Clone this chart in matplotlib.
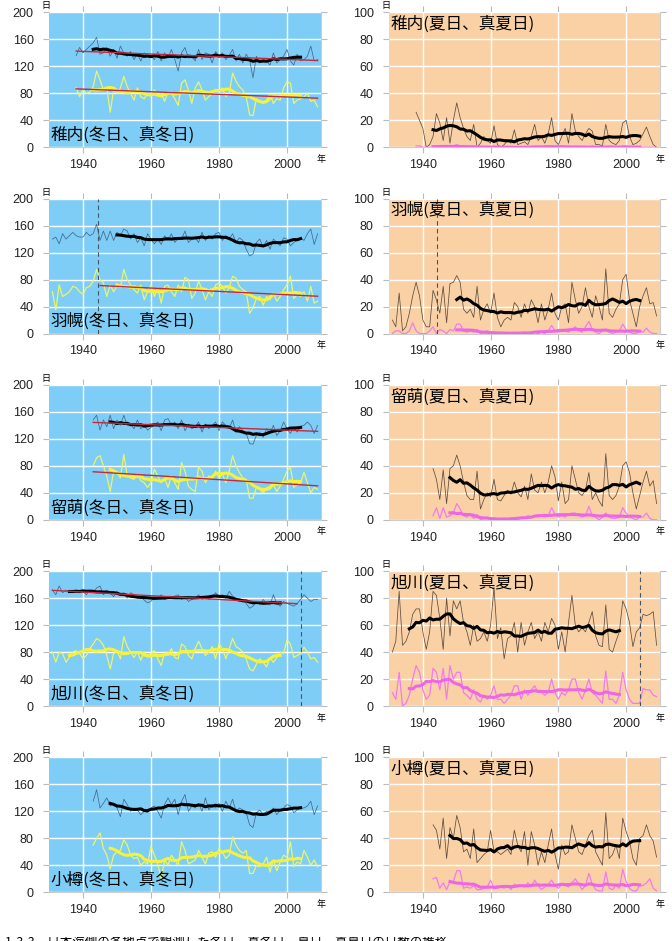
import numpy as np
import pandas as pd
import matplotlib
matplotlib.use('Agg')
import matplotlib.pyplot as plt

plt.rcParams['font.family'] = ['Liberation Sans', 'Noto Sans CJK JP']

# ---- data: annual day counts ----
# 稚内 1938-2009
wakkanai_start = 1938
wakkanai_fuyubi = [136, 148, 140, 145, 150, 155, 163, 138, 140, 148,
                   135, 145, 132, 150, 140, 135, 142, 130, 138, 128,
                   140, 134, 136, 130, 142, 128, 140, 132, 145, 130,
                   113, 140, 148, 132, 135, 128, 145, 130, 140, 138,
                   125, 142, 135, 140, 130, 136, 145, 128, 138, 125,
                   138, 130, 103, 135, 125, 130, 128, 122, 140, 125,
                   130, 135, 145, 128, 122, 138, 128, 130, 135, 150,
                   128, 130]
wakkanai_mafuyubi = [88, 75, 85, 80, 82, 90, 113, 100, 85, 88,
                     52, 85, 80, 88, 105, 90, 80, 70, 88, 75,
                     72, 80, 78, 85, 78, 80, 68, 82, 80, 72,
                     62, 95, 100, 85, 65, 88, 97, 85, 70, 75,
                     80, 85, 82, 88, 75, 80, 110, 98, 90, 85,
                     75, 48, 47, 72, 68, 65, 70, 80, 65, 72,
                     70, 88, 97, 95, 65, 70, 72, 75, 80, 68,
                     70, 60]
wakkanai_natsubi = [26, 20, 14, 0, 2, 8, 25, 18, 5, 22,
                    3, 20, 33, 22, 14, 8, 5, 17, 0, 3,
                    8, 5, 3, 16, 2, 0, 2, 5, 3, 13,
                    2, 3, 4, 2, 8, 17, 5, 8, 3, 10,
                    22, 5, 2, 8, 14, 3, 25, 12, 8, 5,
                    10, 14, 12, 2, 2, 1, 17, 5, 3, 2,
                    5, 18, 20, 8, 2, 3, 5, 10, 15, 8,
                    2, 0]
wakkanai_manatsubi = [1, 1, 0, 0, 0, 0, 1, 1, 0, 1,
                      0, 1, 2, 1, 0, 0, 0, 1, 0, 0,
                      0, 0, 0, 1, 0, 0, 0, 0, 0, 0,
                      0, 0, 0, 0, 0, 0, 0, 0, 1, 1,
                      1, 0, 0, 1, 0, 1, 0, 0, 0, 0,
                      0, 0, 1, 0, 0, 0, 0, 0, 0, 0,
                      0, 1, 1, 0, 0, 0, 0, 0, 0, 0,
                      0, 0]

# 羽幌 1931-2009
haboro_start = 1931
haboro_fuyubi = [140, 143, 133, 148, 140, 145, 150, 145, 143, 143,
                 150, 145, 148, 162, 138, 152, 138, 152, 138, 150,
                 145, 155, 152, 140, 148, 135, 142, 130, 148, 140,
                 133, 140, 132, 145, 138, 148, 135, 142, 140, 152,
                 135, 140, 142, 135, 150, 138, 145, 140, 148, 150,
                 138, 145, 140, 148, 135, 142, 138, 125, 115, 118,
                 135, 140, 128, 138, 125, 140, 135, 130, 142, 140,
                 130, 135, 138, 142, 138, 148, 155, 132, 148]
haboro_mafuyubi = [62, 35, 72, 55, 58, 62, 70, 68, 62, 58,
                   68, 70, 78, 95, 80, 75, 55, 72, 62, 70,
                   68, 95, 80, 72, 65, 60, 72, 50, 62, 72,
                   55, 68, 45, 70, 72, 62, 55, 72, 62, 83,
                   80, 52, 60, 78, 65, 50, 62, 55, 72, 75,
                   70, 60, 68, 85, 82, 70, 65, 62, 30, 38,
                   52, 55, 42, 55, 50, 60, 48, 55, 65, 72,
                   85, 52, 58, 55, 62, 48, 70, 45, 48]
haboro_natsubi = [10, 5, 30, 2, 5, 15, 28, 38, 28, 10,
                  5, 5, 32, 25, 15, 35, 8, 37, 38, 43,
                  38, 18, 15, 18, 12, 35, 10, 18, 22, 15,
                  30, 12, 5, 10, 12, 10, 23, 20, 12, 22,
                  15, 25, 20, 8, 22, 10, 18, 30, 15, 10,
                  20, 22, 8, 38, 25, 15, 20, 34, 20, 12,
                  28, 20, 10, 48, 15, 12, 18, 22, 40, 44,
                  25, 15, 5, 20, 28, 34, 22, 23, 13]
haboro_manatsubi = [0, 2, 2, 0, 0, 2, 8, 2, 0, 0,
                    0, 2, 5, 0, 3, 2, 0, 3, 2, 7,
                    7, 2, 1, 2, 1, 3, 0, 1, 2, 0,
                    1, 0, 0, 0, 0, 0, 1, 0, 0, 1,
                    0, 1, 1, 0, 1, 0, 2, 6, 2, 1,
                    2, 2, 1, 3, 5, 2, 1, 5, 9, 3,
                    1, 0, 2, 3, 1, 0, 1, 2, 7, 3,
                    1, 0, 0, 2, 1, 4, 1, 0, 0]

# 留萌 1943-2009
rumoi_start = 1943
rumoi_fuyubi = [148, 155, 133, 148, 138, 155, 135, 148, 140, 155,
                140, 142, 135, 148, 135, 140, 133, 137, 140, 145,
                132, 148, 150, 140, 145, 135, 148, 132, 142, 135,
                138, 145, 130, 142, 135, 140, 145, 132, 145, 140,
                135, 148, 130, 138, 132, 128, 113, 112, 125, 130,
                122, 135, 128, 140, 125, 132, 145, 135, 128, 138,
                130, 138, 140, 145, 140, 128, 140]
rumoi_mafuyubi = [80, 92, 95, 80, 65, 42, 72, 70, 62, 97,
                  65, 62, 60, 68, 58, 55, 48, 55, 75, 65,
                  55, 62, 48, 65, 55, 45, 85, 72, 50, 45,
                  42, 78, 72, 55, 65, 60, 72, 62, 68, 55,
                  72, 95, 80, 70, 62, 60, 32, 32, 48, 45,
                  40, 48, 45, 52, 42, 50, 60, 72, 78, 48,
                  52, 55, 70, 55, 40, 48, 45]
rumoi_natsubi = [38, 30, 15, 37, 12, 38, 40, 48, 40, 28,
                 18, 15, 15, 36, 8, 15, 20, 17, 30, 15,
                 14, 18, 22, 19, 28, 20, 17, 25, 15, 34,
                 22, 20, 28, 20, 28, 40, 32, 14, 28, 12,
                 15, 40, 30, 20, 18, 22, 35, 15, 20, 14,
                 10, 49, 18, 15, 18, 25, 40, 43, 35, 20,
                 8, 18, 28, 36, 25, 29, 12]
rumoi_manatsubi = [3, 9, 1, 9, 2, 3, 5, 12, 8, 3,
                   2, 4, 1, 4, 0, 1, 2, 0, 1, 0,
                   0, 1, 0, 0, 1, 0, 2, 1, 3, 2,
                   3, 2, 3, 2, 3, 9, 4, 2, 3, 2,
                   4, 5, 5, 3, 2, 3, 10, 3, 2, 0,
                   2, 5, 2, 1, 1, 2, 9, 5, 2, 1,
                   0, 2, 2, 5, 1, 0, 0]

# 旭川 1931-2009
asahikawa_start = 1931
asahikawa_fuyubi = [172, 165, 178, 168, 172, 168, 170, 172, 168, 170,
                    165, 172, 168, 175, 178, 165, 170, 168, 162, 170,
                    165, 168, 160, 168, 165, 160, 163, 157, 153, 155,
                    162, 160, 165, 158, 162, 160, 163, 165, 158, 162,
                    155, 158, 160, 165, 158, 163, 158, 162, 168, 162,
                    165, 160, 170, 163, 160, 155, 158, 152, 145, 148,
                    155, 150, 158, 152, 150, 165, 152, 148, 155, 152,
                    150, 148, 152, 158, 165, 160, 155, 158, 158]
asahikawa_mafuyubi = [80, 65, 80, 78, 65, 72, 80, 82, 78, 70,
                      75, 85, 92, 100, 97, 90, 75, 55, 78, 82,
                      70, 103, 88, 80, 72, 80, 68, 80, 72, 78,
                      82, 70, 60, 80, 75, 85, 72, 70, 92, 88,
                      75, 70, 85, 96, 85, 75, 80, 88, 70, 92,
                      85, 70, 85, 100, 88, 85, 80, 70, 55, 52,
                      62, 70, 65, 58, 72, 65, 72, 80, 78, 98,
                      92, 72, 75, 78, 87, 80, 70, 72, 65]
asahikawa_natsubi = [40, 48, 85, 45, 48, 55, 68, 72, 72, 55,
                     42, 55, 85, 82, 65, 42, 80, 52, 78, 72,
                     78, 62, 55, 45, 60, 48, 50, 55, 48, 60,
                     88, 50, 58, 35, 50, 52, 62, 40, 62, 45,
                     55, 62, 50, 55, 48, 62, 55, 65, 60, 42,
                     55, 40, 62, 82, 60, 55, 58, 55, 62, 70,
                     52, 45, 44, 75, 42, 40, 48, 55, 78, 72,
                     62, 44, 55, 58, 68, 67, 68, 70, 45]
asahikawa_manatsubi = [10, 5, 25, 0, 2, 8, 20, 30, 25, 12,
                       5, 8, 28, 25, 12, 28, 5, 30, 20, 25,
                       25, 10, 8, 5, 12, 5, 3, 8, 5, 8,
                       15, 5, 5, 2, 5, 8, 15, 15, 5, 12,
                       8, 12, 15, 10, 10, 8, 10, 20, 10, 5,
                       10, 8, 12, 20, 20, 10, 5, 12, 20, 10,
                       8, 5, 2, 26, 5, 5, 2, 8, 25, 12,
                       5, 2, 2, 2, 13, 12, 12, 8, 7]

# 小樽 1943-2009
otaru_start = 1943
otaru_fuyubi = [135, 152, 125, 132, 140, 128, 132, 125, 112, 138,
                130, 120, 125, 122, 115, 120, 118, 125, 128, 120,
                110, 130, 140, 130, 138, 115, 135, 145, 120, 128,
                125, 132, 120, 140, 122, 130, 125, 132, 120, 135,
                125, 138, 120, 125, 122, 118, 100, 96, 118, 122,
                115, 120, 118, 125, 115, 122, 125, 130, 128, 118,
                122, 125, 125, 128, 135, 115, 128]
otaru_mafuyubi = [70, 80, 88, 65, 55, 35, 55, 60, 62, 78,
                  70, 55, 50, 52, 40, 45, 42, 68, 55, 42,
                  20, 48, 40, 55, 48, 40, 75, 62, 42, 45,
                  48, 62, 52, 42, 58, 60, 52, 65, 60, 50,
                  55, 82, 70, 62, 58, 62, 28, 28, 40, 38,
                  42, 52, 30, 48, 32, 45, 55, 52, 75, 38,
                  45, 42, 62, 52, 40, 48, 38]
otaru_natsubi = [50, 46, 32, 55, 25, 48, 40, 57, 48, 30,
                 32, 25, 47, 22, 25, 28, 30, 46, 30, 30,
                 28, 30, 32, 28, 46, 35, 30, 45, 20, 45,
                 35, 20, 30, 22, 35, 47, 28, 17, 35, 28,
                 30, 50, 40, 30, 28, 35, 42, 46, 30, 25,
                 20, 59, 25, 28, 35, 25, 55, 45, 38, 25,
                 20, 40, 42, 50, 42, 38, 26]
otaru_manatsubi = [10, 11, 3, 7, 2, 8, 8, 16, 16, 3,
                   4, 3, 5, 2, 2, 3, 4, 9, 3, 3,
                   4, 3, 5, 2, 6, 4, 5, 4, 7, 4,
                   9, 5, 2, 4, 6, 9, 5, 3, 6, 5,
                   4, 7, 10, 6, 2, 5, 14, 6, 2, 1,
                   1, 15, 3, 2, 5, 3, 17, 8, 3, 1,
                   1, 5, 5, 7, 10, 3, 1]

station_names = ['稚内', '羽幌', '留萌', '旭川', '小樽']
# homogeneous period used for running mean / trend, and relocation year
segment_ranges = [(1938, 2009), (1945, 2009), (1943, 2009), (1931, 2003), (1943, 2009)]
relocation_years = [None, 1944.3, None, 2004.0, None]
# trend line drawn for (冬日, 真冬日)
trend_flags = [(True, True), (False, True), (True, True), (True, False), (False, False)]

stations = [
    (wakkanai_start, wakkanai_fuyubi, wakkanai_mafuyubi, wakkanai_natsubi, wakkanai_manatsubi),
    (haboro_start, haboro_fuyubi, haboro_mafuyubi, haboro_natsubi, haboro_manatsubi),
    (rumoi_start, rumoi_fuyubi, rumoi_mafuyubi, rumoi_natsubi, rumoi_manatsubi),
    (asahikawa_start, asahikawa_fuyubi, asahikawa_mafuyubi, asahikawa_natsubi, asahikawa_manatsubi),
    (otaru_start, otaru_fuyubi, otaru_mafuyubi, otaru_natsubi, otaru_manatsubi),
]

WINTER_BG = '#7ecdf6'
SUMMER_BG = '#f9d1a5'


def running_mean(s, lo, hi):
    seg = s[(s.index >= lo) & (s.index <= hi)]
    return seg.rolling(11, center=True).mean().dropna()


def trend_line(s, lo, hi):
    seg = s[(s.index >= lo) & (s.index <= hi)]
    coef = np.polyfit(seg.index, seg.values, 1)
    return seg.index, np.polyval(coef, seg.index)


def style_axes(ax, bg, ymax):
    ax.set_facecolor(bg)
    ax.set_xlim(1930, 2010)
    ax.set_yticks(np.linspace(0, ymax, 6))
    # a hair of headroom so the top tick label is always kept
    ax.set_ylim(0, ymax * 1.0005)
    ax.set_xticks([1940, 1960, 1980, 2000])
    ax.grid(True, color='white', linewidth=1.0)
    ax.set_axisbelow(True)
    for sp in ['top', 'left']:
        ax.spines[sp].set_visible(False)
    for sp in ['bottom', 'right']:
        ax.spines[sp].set_color('#cccccc')
        ax.spines[sp].set_linewidth(0.8)
    ax.tick_params(top=True, right=True, bottom=True, left=True,
                   direction='out', length=4, width=0.8, color='#bbbbbb',
                   labelsize=9, labelcolor='#222222')
    ax.tick_params(axis='x', pad=4.5)
    ax.tick_params(axis='y', pad=7)
    ax.text(-0.01, 1.015, '日', transform=ax.transAxes, ha='center', va='bottom',
            fontsize=6.5, family=['Noto Sans CJK JP'])
    ax.text(1.0, -0.09, '年', transform=ax.transAxes, ha='center', va='center',
            fontsize=6.5, family=['Noto Sans CJK JP'])


fig = plt.figure(figsize=(6.72, 9.41), dpi=100)

for i, (start, fuyu, mafuyu, natsu, manatsu) in enumerate(stations):
    years = np.arange(start, start + len(fuyu))
    lo, hi = segment_ranges[i]
    top_px = 12.3 + 186.25 * i
    y0 = 1 - (top_px + 135) / 941
    h = 135 / 941

    # winter panel
    axw = fig.add_axes([49 / 672, y0, 272 / 672, h])
    style_axes(axw, WINTER_BG, 200)
    s1 = pd.Series(fuyu, index=years)
    s2 = pd.Series(mafuyu, index=years)
    axw.plot(years, fuyu, color='#46678c', lw=0.55, zorder=3)
    axw.plot(years, mafuyu, color='#eaf56a', lw=0.9, zorder=3)
    rm1 = running_mean(s1, lo, hi)
    rm2 = running_mean(s2, lo, hi)
    axw.plot(rm1.index, rm1.values, color='black', lw=2.2, zorder=4)
    axw.plot(rm2.index, rm2.values, color='#f4f23a', lw=2.2, zorder=4)
    if trend_flags[i][0]:
        tx, ty = trend_line(s1, lo, hi)
        axw.plot(tx, ty, color='#c8283c', lw=1.0, zorder=5)
    if trend_flags[i][1]:
        tx, ty = trend_line(s2, lo, hi)
        axw.plot(tx, ty, color='#c8283c', lw=1.0, zorder=5)
    axw.text(0.005, 0.025, station_names[i] + '(冬日、真冬日)', transform=axw.transAxes,
             ha='left', va='bottom', fontsize=12, family=['Noto Sans CJK JP'], zorder=6)

    # summer panel
    axs = fig.add_axes([389 / 672, y0, 271 / 672, h])
    style_axes(axs, SUMMER_BG, 100)
    s3 = pd.Series(natsu, index=years)
    s4 = pd.Series(manatsu, index=years)
    axs.plot(years, natsu, color='#5e4d3f', lw=0.55, zorder=3)
    axs.plot(years, manatsu, color='#f07cf0', lw=0.9, zorder=3)
    rm3 = running_mean(s3, lo, hi)
    rm4 = running_mean(s4, lo, hi)
    axs.plot(rm3.index, rm3.values, color='black', lw=2.2, zorder=4)
    axs.plot(rm4.index, rm4.values, color='#ee66e8', lw=2.2, zorder=4)
    axs.text(0.005, 0.975, station_names[i] + '(夏日、真夏日)', transform=axs.transAxes,
             ha='left', va='top', fontsize=12, family=['Noto Sans CJK JP'], zorder=6)

    if relocation_years[i] is not None:
        for ax in (axw, axs):
            ax.axvline(relocation_years[i], color='#445566', lw=0.8,
                       ls=(0, (4, 3)), zorder=5)

# caption strip: the original page cuts the caption line in half at the bottom edge,
# so the text sits in its own small axes and is clipped there
cap_ax = fig.add_axes([0, 0, 1, 4.5 / 941])
cap_ax.set_axis_off()
cap_ax.text(5 / 672, 1.0, '1-3-3　日本海側の各地点で観測した冬日、真冬日、夏日、真夏日の日数の推移',
            transform=cap_ax.transAxes, ha='left', va='top', fontsize=9,
            family=['Noto Sans CJK JP'], clip_on=True)

fig.savefig('out.png', dpi=100)
